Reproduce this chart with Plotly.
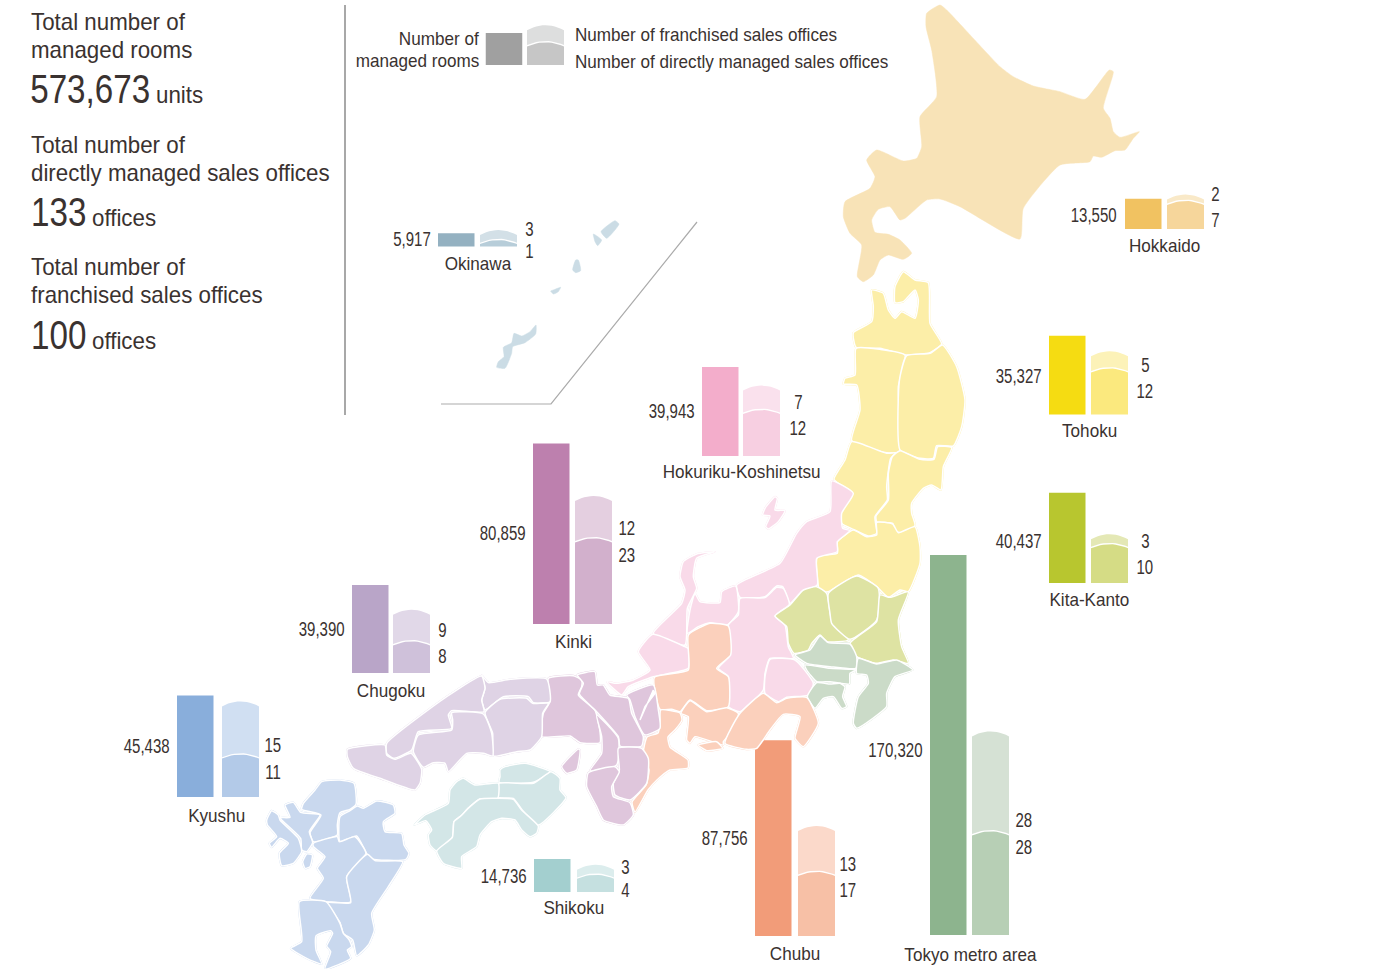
import plotly.graph_objects as go

# ---------- data ----------
REGIONS = ["Hokkaido", "Okinawa", "Tohoku", "Hokuriku-Koshinetsu", "Kinki", "Kita-Kanto",
           "Tokyo metro area", "Chubu", "Chugoku", "Kyushu", "Shikoku"]
ROOMS = [13550, 5917, 35327, 39943, 80859, 40437, 170320, 87756, 39390, 45438, 14736]
FRANCHISED = [2, 3, 5, 7, 12, 3, 28, 13, 9, 15, 3]
DIRECT = [7, 1, 12, 12, 23, 10, 28, 17, 8, 11, 4]

ROOM_COLORS = ["#F1C261", "#94B1C1", "#F5DC12", "#F3ADCB", "#BD80AE", "#B8C62F",
               "#8DB48E", "#F29C79", "#B9A5C8", "#89AEDB", "#A3CFCF"]
DIRECT_COLORS = ["#F6D69B", "#B7CDD9", "#FBE97E", "#F7CFE1", "#D2B0CC", "#D5DC85",
                 "#B7CFB5", "#F7C0A6", "#CFC1DA", "#B3CAE8", "#C5E0E0"]
FRAN_COLORS = ["#F9E9C8", "#D3E0E7", "#FCF2B8", "#FAE1ED", "#E4CFE0", "#E4E8B5",
               "#D5E1D4", "#FBD9CA", "#E1D8E8", "#D0DFF2", "#DCEDED"]

# left edge of room bar, left edge of office bar, bar bottom
ROOM_X = [1125, 438, 1049, 702, 533, 1049, 930, 755, 352, 177, 534]
OFFICE_X = [1167, 480, 1091, 743, 575, 1091, 972, 798, 393, 222, 577]
BOTTOM = [229, 246.5, 414.5, 456, 624, 583, 935, 936, 673, 797, 892]
# name label centre, room label right edge/y, office label centre x, y(top), y(bottom)
NAME_POS = [(1164, 246), (478, 264), (1089, 431), (741, 472), (573, 642), (1089, 600),
            (970, 955), (795, 954), (391, 691), (216, 816), (574, 908)]
ROOMLAB_POS = [(1117, 216), (431, 240), (1042, 377), (695, 412), (526, 534), (1042, 542),
               (923, 751), (748, 839), (345, 630), (170, 747), (527, 877)]
OFFLAB_POS = [(1215, 195, 221), (529, 230, 252), (1145, 366, 392), (798, 403, 429),
              (627, 529, 556), (1145, 542, 568), (1024, 821, 848), (848, 865, 891),
              (442, 631, 657), (273, 746, 773), (625, 868, 891)]

SUMMARY_HEADS = [("Total number of", 31, 22), ("managed rooms", 31, 50),
                 ("Total number of", 31, 145), ("directly managed sales offices", 31, 173),
                 ("Total number of", 31, 267), ("franchised sales offices", 31, 295)]
SUMMARY_NUMS = [("573,673", 150, 90), ("133", 86, 213), ("100", 86, 336)]
SUMMARY_UNITS = [("units", 156, 95), ("offices", 92, 218), ("offices", 92, 341)]

ROOM_SCALE = 380 / 170320
OFFICE_SCALE = 3.6
BAR_W = 36.5


def Z(x0, y0, pts):
    return [(x0 + a / 3, y0 + b / 3) for a, b in pts]


# ---------- map outlines ----------
HOKKAIDO = Z(820, 0, [(360, 15), (320, 40), (318, 80), (335, 150), (350, 290), (300, 350), (305, 440), (290, 475),
                      (250, 483), (170, 450), (140, 480), (165, 530), (150, 565), (75, 605), (70, 650), (90, 700),
                      (125, 735), (112, 830), (130, 845), (160, 825), (180, 780), (205, 765), (250, 778), (275, 760),
                      (240, 720), (205, 703), (165, 697), (155, 660), (175, 628), (210, 620), (240, 660), (255, 655),
                      (320, 600), (360, 597), (420, 620), (600, 717), (610, 625), (720, 495), (810, 485), (820, 468),
                      (845, 472), (885, 452), (915, 450), (940, 415), (958, 395), (900, 412), (880, 395), (870, 355),
                      (850, 325), (880, 215), (868, 210), (795, 298), (720, 275), (640, 258), (580, 230), (540, 200),
                      (380, 30)])
TOHOKU = [Z(760, 270, p) for p in [
    [(335, 60), (370, 70), (385, 120), (405, 145), (425, 125), (465, 145), (475, 90), (465, 60), (430, 95), (405, 98),
     (405, 50), (430, 5), (465, 30), (505, 38), (510, 160), (545, 222), (510, 248), (437, 255), (360, 235), (288, 232),
     (280, 188), (335, 155), (340, 110)],
    [(288, 235), (360, 238), (435, 255), (415, 350), (418, 545), (380, 548), (275, 512), (300, 420), (290, 345),
     (250, 342), (255, 325), (285, 315)],
    [(548, 225), (590, 290), (615, 390), (605, 470), (580, 528), (530, 527), (520, 565), (480, 565), (420, 540),
     (415, 380), (420, 320), (440, 257), (510, 250)],
    [(275, 515), (380, 550), (410, 548), (392, 565), (380, 650), (382, 690), (345, 740), (350, 790), (325, 798),
     (280, 778), (245, 760), (243, 720), (278, 670), (222, 628), (255, 570)],
    [(420, 542), (480, 568), (522, 568), (533, 530), (575, 533), (550, 590), (543, 660), (515, 645), (490, 655),
     (455, 700), (455, 730), (465, 767), (425, 788), (405, 783), (398, 760), (350, 755), (348, 738), (385, 690),
     (385, 610), (397, 560)],
    [(280, 780), (320, 800), (350, 795), (350, 757), (398, 762), (415, 788), (465, 770), (480, 830), (480, 880),
     (445, 965), (420, 960), (385, 982), (350, 950), (295, 915), (205, 965), (180, 965), (172, 860), (232, 850),
     (232, 815)]]]
HOKURIKU = [Z(600, 480, p) for p in [
    [(695, 3), (760, 40), (725, 100), (728, 145), (750, 152), (712, 185), (712, 215), (650, 235), (652, 315), (605, 335),
     (570, 370), (548, 320), (530, 318), (495, 350), (420, 352), (410, 315), (540, 250), (590, 160), (620, 125),
     (690, 95)],
    [(407, 318), (415, 395), (382, 435), (330, 428), (295, 440), (262, 460), (270, 390), (285, 340), (300, 365),
     (360, 367), (365, 335)],
    [(345, 215), (290, 235), (280, 290), (290, 325), (262, 385), (255, 495), (160, 460), (245, 370), (255, 330),
     (240, 290), (250, 245), (290, 222)],
    [(158, 463), (255, 500), (265, 505), (265, 565), (160, 590), (85, 620), (65, 645), (20, 605), (50, 610), (100, 600),
     (150, 570), (115, 515)],
    [(420, 355), (495, 353), (530, 322), (550, 325), (568, 373), (525, 408), (555, 435), (565, 500), (580, 535),
     (510, 535), (495, 580), (490, 630), (420, 695), (385, 680), (385, 590), (355, 565), (390, 525), (385, 435),
     (415, 405)],
    [(510, 538), (585, 540), (640, 610), (625, 645), (560, 652), (535, 665), (495, 640), (495, 590)],
    [(525, 50), (532, 55), (525, 90), (555, 92), (535, 125), (505, 147), (497, 140), (510, 108), (488, 105), (495, 85)]]]
KITA = [Z(600, 480, p) for p in [
    [(650, 320), (680, 340), (695, 420), (745, 480), (680, 485), (660, 465), (635, 490), (625, 510), (582, 520),
     (565, 490), (560, 440), (525, 408), (570, 375), (610, 330)],
    [(685, 340), (770, 288), (835, 325), (830, 420), (750, 478), (695, 430), (690, 400)],
    [(840, 345), (870, 352), (925, 335), (895, 420), (905, 500), (925, 550), (880, 540), (830, 550), (770, 530),
     (750, 490), (830, 425)]]]
TOKYO = [Z(600, 480, p) for p in [
    [(660, 468), (685, 488), (750, 492), (770, 530), (768, 565), (690, 560), (620, 550), (585, 525), (630, 510)],
    [(615, 555), (690, 565), (770, 570), (750, 580), (748, 612), (690, 605), (650, 605), (620, 570)],
    [(650, 608), (690, 612), (720, 610), (735, 620), (728, 650), (740, 680), (725, 685), (700, 650), (670, 655),
     (645, 685), (622, 650)],
    [(775, 535), (830, 552), (890, 540), (938, 570), (885, 590), (860, 640), (860, 680), (770, 745), (760, 730),
     (775, 650), (805, 610), (800, 585), (770, 580)]]]
CHUBU = [Z(600, 480, p) for p in [
    [(265, 465), (330, 430), (385, 438), (392, 525), (350, 565), (385, 590), (385, 680), (320, 692), (270, 660),
     (240, 695), (215, 688), (180, 688), (163, 592), (265, 570)],
    [(270, 662), (320, 695), (380, 683), (415, 700), (405, 745), (370, 785), (370, 795), (285, 770), (270, 790),
     (260, 780), (265, 710), (243, 700)],
    [(295, 795), (350, 785), (368, 805), (320, 812)],
    [(490, 640), (530, 668), (560, 655), (620, 652), (655, 730), (610, 800), (585, 775), (600, 710), (550, 703),
     (510, 750), (470, 805), (440, 808), (375, 790), (420, 700)]]] + [
    [(660.7, 710), (680, 713), (682, 720), (675, 730), (668, 737), (670, 747), (688, 760), (688, 768), (670, 770),
     (657, 780), (648, 790), (635, 812), (632, 802), (646, 785), (649, 770), (643, 755), (647, 737), (658, 733),
     (660, 723)]]
KINKI = [Z(340, 650, p) for p in [
    [(625, 85), (700, 77), (725, 90), (725, 110), (715, 135), (765, 180), (780, 245), (780, 278), (720, 278), (690, 258),
     (605, 260), (610, 190), (630, 155)],
    [(712, 75), (765, 65), (772, 105), (790, 105), (810, 135), (865, 145), (875, 190), (910, 260), (905, 288),
     (840, 288), (835, 260), (770, 185), (718, 132), (730, 100)],
    [(770, 195), (835, 265), (830, 345), (750, 362), (785, 310), (785, 260)],
    [(835, 295), (905, 295), (925, 325), (920, 400), (870, 450), (825, 435), (820, 400), (838, 360)],
    [(745, 368), (825, 350), (838, 365), (815, 410), (820, 440), (870, 458), (880, 495), (850, 525), (790, 510),
     (770, 470), (740, 410)],
    [(860, 135), (940, 105), (955, 180), (960, 235), (915, 255), (885, 200), (870, 150)],
    [(715, 297), (720, 300), (710, 360), (680, 370), (665, 350)]]]
LAKE = Z(340, 650, [(940, 120), (900, 210), (915, 170), (945, 130)])
CHUGOKU = [Z(340, 650, p) for p in [
    [(620, 87), (630, 155), (580, 158), (565, 140), (490, 140), (435, 180), (425, 150), (435, 115), (425, 75), (445, 98),
     (510, 88)],
    [(435, 188), (480, 148), (560, 145), (578, 160), (625, 160), (608, 190), (605, 260), (570, 300), (530, 305),
     (460, 318), (458, 250)],
    [(425, 78), (435, 115), (425, 150), (432, 185), (335, 182), (325, 195), (335, 235), (235, 245), (215, 300),
     (160, 325), (140, 310), (140, 280), (320, 140)],
    [(335, 188), (430, 192), (455, 250), (458, 318), (430, 310), (380, 310), (325, 365), (315, 340), (280, 338),
     (250, 352), (220, 305), (235, 255), (335, 240), (338, 210)],
    [(22, 298), (135, 285), (140, 315), (165, 328), (213, 310), (245, 358), (240, 400), (225, 420), (120, 385), (40, 355),
     (22, 320)]]]
SHIKOKU = [Z(405, 750, p) for p in [
    [(285, 60), (300, 50), (360, 40), (435, 65), (385, 97), (282, 97), (285, 80)],
    [(282, 100), (385, 100), (438, 65), (465, 85), (465, 120), (483, 143), (400, 225), (350, 178), (325, 145), (278, 142)],
    [(175, 85), (210, 105), (280, 100), (278, 145), (225, 147), (195, 170), (165, 200), (147, 215), (142, 262), (95, 303),
     (75, 285), (70, 255), (80, 240), (62, 212), (28, 225), (60, 195), (130, 160), (135, 120), (155, 95)],
    [(225, 147), (278, 145), (325, 148), (350, 180), (400, 228), (395, 250), (375, 260), (350, 240), (330, 210),
     (290, 205), (260, 215), (225, 255), (215, 290), (170, 320), (170, 355), (115, 340), (95, 303), (142, 262),
     (147, 215), (165, 200), (195, 170)]]]
KYUSHU = [Z(260, 770, p) for p in [
    [(130, 100), (165, 60), (185, 35), (240, 30), (282, 40), (288, 103), (270, 118), (240, 128), (232, 165), (232, 195),
     (160, 215), (150, 188), (183, 135), (125, 118)],
    [(75, 105), (100, 97), (122, 127), (180, 135), (148, 185), (158, 218), (140, 245), (125, 240), (122, 205), (65, 150),
     (60, 143), (90, 142)],
    [(35, 122), (55, 135), (60, 150), (115, 205), (125, 245), (100, 280), (65, 287), (58, 250), (85, 220), (60, 205),
     (35, 232), (28, 220), (50, 200), (22, 165), (20, 150)],
    [(292, 108), (310, 115), (350, 93), (400, 105), (405, 130), (370, 155), (375, 185), (425, 190), (432, 225), (447, 250),
     (438, 268), (330, 265), (290, 198), (240, 215), (240, 140), (270, 122)],
    [(160, 220), (232, 200), (238, 215), (285, 200), (318, 250), (260, 320), (272, 395), (150, 385), (190, 325),
     (172, 295), (195, 260), (160, 230)],
    [(322, 253), (345, 272), (428, 275), (385, 350), (335, 430), (343, 480), (325, 525), (290, 557), (278, 510),
     (250, 490), (240, 458), (202, 398), (272, 398), (260, 320)],
    [(118, 395), (198, 395), (240, 460), (250, 490), (268, 510), (275, 530), (262, 540), (272, 565), (195, 597), (212, 545),
     (200, 528), (218, 490), (212, 482), (168, 498), (168, 540), (185, 582), (140, 565), (92, 535), (125, 515)],
    [(140, 252), (157, 255), (150, 290), (135, 295), (128, 275)]]]
OKINAWA = [Z(385, 210, p) for p in [
    [(453, 345), (452, 372), (420, 398), (383, 410), (380, 430), (360, 475), (335, 472), (340, 455), (357, 440),
     (355, 412), (380, 398), (387, 370), (410, 378), (435, 365)],
    [(505, 240), (527, 232), (520, 245), (505, 252), (497, 243)],
    [(572, 150), (580, 150), (587, 182), (572, 188), (563, 180)],
    [(625, 72), (650, 90), (638, 107), (630, 95)],
    [(648, 65), (690, 32), (702, 42), (690, 60), (665, 85)]]]

MAP_GROUPS = [(TOHOKU, "#FCEEA8"), (HOKURIKU, "#F9DAE9"), (KITA, "#DEE3A3"),
              (TOKYO, "#CBDBC8"), (CHUBU, "#FBD0BC"), (KINKI, "#DFC6DC"), (CHUGOKU, "#DFD3E5"),
              (SHIKOKU, "#D3E6E7"), (KYUSHU, "#C9D8EE")]

fig = go.Figure()


def poly(pts, color, smooth=0.5, line="#FFFFFF", lw=1.5):
    xs = [p[0] for p in pts] + [pts[0][0]]
    ys = [p[1] for p in pts] + [pts[0][1]]
    fig.add_trace(go.Scatter(x=xs, y=ys, mode="lines", fill="toself", fillcolor=color,
                             line=dict(color=line, width=lw, shape="spline" if smooth else "linear",
                                       smoothing=smooth if smooth else 0),
                             hoverinfo="skip", showlegend=False))


poly(HOKKAIDO, "#F8E3B7", line="#F8E3B7", lw=0.5)
# colour underlay closes small slivers between neighbouring prefectures
for group, color in MAP_GROUPS:
    for shape in group:
        poly(shape, color, line=color, lw=1.7)
for group, color in MAP_GROUPS:
    for shape in group:
        poly(shape, color)
for shape in OKINAWA:
    poly(shape, "#CBDCE5", line="#CBDCE5", lw=0.5)
poly(LAKE, "#FFFFFF", smooth=0)

# straight rules
fig.add_trace(go.Scatter(x=[345, 345], y=[5, 415], mode="lines", line=dict(color="#6E6E6E", width=1.2),
                         hoverinfo="skip", showlegend=False))
fig.add_trace(go.Scatter(x=[441, 551, 697], y=[404, 404, 222], mode="lines", line=dict(color="#ABABAB", width=1.2),
                         hoverinfo="skip", showlegend=False))

# room bars
fig.add_trace(go.Bar(x=[x + BAR_W / 2 for x in ROOM_X] + [504],
                     y=[-v * ROOM_SCALE for v in ROOMS] + [-32],
                     base=BOTTOM + [65], width=BAR_W,
                     marker=dict(color=ROOM_COLORS + ["#A0A0A0"], line=dict(width=0)),
                     hoverinfo="skip", showlegend=False))


def arch(x0, w, y_low, y_top, rise, low_rise):
    """Band of an office bar: arched top edge and arched (or flat) lower edge."""
    n = 12
    pts = []
    for i in range(n + 1):
        t = i / n
        pts.append((x0 + w * t, y_top + rise * (2 * t - 1) ** 2))
    for i in range(n, -1, -1):
        t = i / n
        pts.append((x0 + w * t, y_low + low_rise * (2 * t - 1) ** 2))
    return pts


def office_bar(x0, bottom, direct_n, fran_n, c_direct, c_fran):
    w = BAR_W + 0.5
    y_div = bottom - direct_n * OFFICE_SCALE - 5
    y_top = bottom - (direct_n + fran_n) * OFFICE_SCALE - 2
    poly(arch(x0, w, y_div + 0.8, y_top, 5, 4), c_fran, smooth=0, line=c_fran, lw=0)
    poly(arch(x0, w, bottom, y_div + 2.2, 4, 0), c_direct, smooth=0, line=c_direct, lw=0)


for i in range(len(REGIONS)):
    office_bar(OFFICE_X[i], BOTTOM[i], DIRECT[i], FRANCHISED[i], DIRECT_COLORS[i], FRAN_COLORS[i])
office_bar(527, 65, 5.5, 5, "#C6C6C6", "#DDDEDE")

# ---------- text ----------
FONT = "Liberation Sans, Arial, sans-serif"
INK = "#3A3230"
ann = []


def label(text, x, y, size, anchor="left"):
    dx = {"left": -2, "right": 2, "center": 0}[anchor]
    ann.append(dict(text=text, x=x + dx, y=y - 1, xref="x", yref="y", showarrow=False, xanchor=anchor, yanchor="middle",
                    font=dict(family=FONT, size=size, color=INK), align=anchor))


for i, name in enumerate(REGIONS):
    label(name, NAME_POS[i][0], NAME_POS[i][1], 19, "center")
    label(f"{ROOMS[i]:,}", ROOMLAB_POS[i][0], ROOMLAB_POS[i][1], 19.5, "right")
    label(str(FRANCHISED[i]), OFFLAB_POS[i][0], OFFLAB_POS[i][1], 19.5, "center")
    label(str(DIRECT[i]), OFFLAB_POS[i][0], OFFLAB_POS[i][2], 19.5, "center")
for t, x, y in SUMMARY_HEADS:
    label(t, x, y, 24)
for t, x, y in SUMMARY_NUMS:
    label(t, x, y, 41, "right")
for t, x, y in SUMMARY_UNITS:
    label(t, x, y, 24)
label("Number of", 479, 39, 19, "right")
label("managed rooms", 479, 61, 19, "right")
label("Number of franchised sales offices", 575, 35, 19)
label("Number of directly managed sales offices", 575, 62, 19)

fig.update_layout(width=1396, height=969, margin=dict(l=0, r=0, t=0, b=0), paper_bgcolor="#FFFFFF",
                  plot_bgcolor="#FFFFFF", barmode="overlay", showlegend=False, annotations=ann,
                  xaxis=dict(range=[0, 1396], visible=False, fixedrange=True),
                  yaxis=dict(range=[969, 0], visible=False, fixedrange=True))

# The reference uses a condensed face; none is installed, so narrow the real text glyphs.
NARROW_JS = """
document.body.style.margin='0';document.body.style.overflow='hidden';
document.querySelectorAll('.annotation-text').forEach(function(t){
  var s=t.textContent, fs=parseFloat(t.style.fontSize);
  var f=/^[0-9,]+$/.test(s)?(fs>30?0.81:0.77):(fs>22?0.93:0.9);
  t.setAttribute('textLength', t.getComputedTextLength()*f);
  t.setAttribute('lengthAdjust','spacingAndGlyphs');
});
"""
fig.write_html("out.html", config={"displayModeBar": False}, post_script=NARROW_JS)
